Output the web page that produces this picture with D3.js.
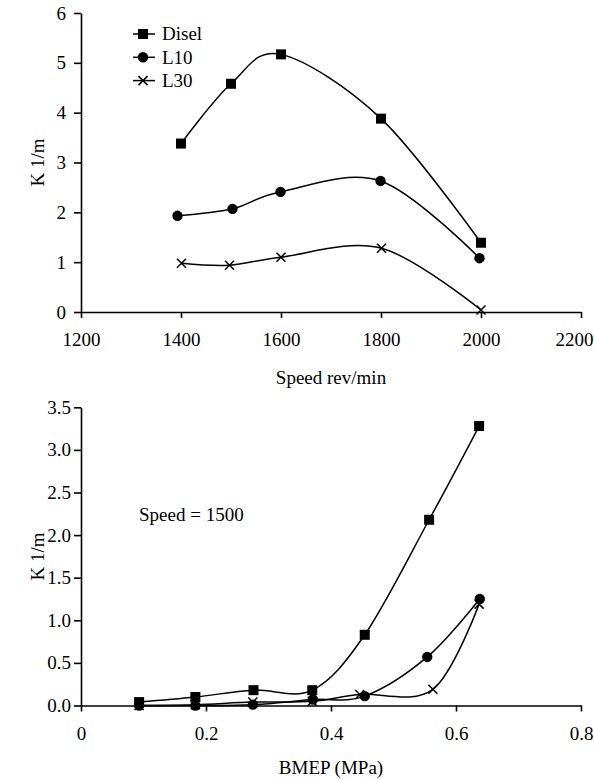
<!DOCTYPE html>
<html>
<head>
<meta charset="utf-8">
<script src="https://cdn.jsdelivr.net/npm/d3@7"></script>
<style>
body { margin: 0; background: #fff; }
svg { display: block; font-family: "Liberation Serif", "Times New Roman", serif; }
</style>
</head>
<body>
<script>
// upper panel: K against engine speed
const speedTicks = [1200, 1400, 1600, 1800, 2000, 2200]
const kTicksTop = [0, 1, 2, 3, 4, 5, 6]
const dieselSpeed = [1400, 1500, 1600, 1800, 2000]
const dieselKTop = [3.38, 4.58, 5.17, 3.88, 1.39]
const l10Speed = [1393, 1503, 1599, 1799, 1997]
const l10KTop = [1.93, 2.07, 2.41, 2.63, 1.08]
const l30Speed = [1401, 1497, 1600, 1801, 2000]
const l30KTop = [0.98, 0.94, 1.10, 1.28, 0.04]

// lower panel: K against BMEP at 1500 rev/min
const bmepTicks = [0, 0.2, 0.4, 0.6, 0.8]
const kTicksBottom = [0, 0.5, 1, 1.5, 2, 2.5, 3, 3.5]
const dieselBmep = [0.093, 0.183, 0.276, 0.370, 0.454, 0.557, 0.637]
const dieselKBottom = [0.04, 0.10, 0.18, 0.18, 0.83, 2.18, 3.28]
const l10Bmep = [0.093, 0.183, 0.275, 0.371, 0.454, 0.554, 0.638]
const l10KBottom = [0.0, 0.0, 0.01, 0.07, 0.11, 0.57, 1.25]
const l30Bmep = [0.093, 0.183, 0.275, 0.370, 0.446, 0.563, 0.637]
const l30KBottom = [0.0, 0.01, 0.04, 0.05, 0.13, 0.19, 1.19]

const seriesNames = ["Disel", "L10", "L30"]
const seriesShapes = ["square", "circle", "cross"]

const W = 594, H = 779
const svg = d3.select("body").append("svg").attr("width", W).attr("height", H)

function zip(xs, ys) { return xs.map((x, i) => ({x: x, y: ys[i]})) }

function marker(g, shape) {
    if (shape == "square") {
        g.append("rect").attr("x", -5).attr("y", -5).attr("width", 10).attr("height", 10).attr("fill", "#000")
    } else if (shape == "circle") {
        g.append("circle").attr("r", 5.2).attr("fill", "#000")
    } else {
        g.append("path").attr("d", "M-4.5,-4.5L4.5,4.5M-4.5,4.5L4.5,-4.5")
            .attr("stroke", "#000").attr("stroke-width", 1.5).attr("fill", "none")
    }
}

function panel(opt) {
    const x = d3.scaleLinear().domain(opt.xDomain).range([81, 581])
    const y = d3.scaleLinear().domain(opt.yDomain).range(opt.yRange)
    const g = svg.append("g")

    const xAxis = g.append("g")
        .attr("transform", `translate(0,${opt.yRange[0]})`)
        .call(d3.axisBottom(x).tickValues(opt.xTicks).tickFormat(opt.xFormat)
            .tickSize(6).tickSizeOuter(0).tickPadding(15))
    const yAxis = g.append("g")
        .attr("transform", "translate(81,0)")
        .call(d3.axisLeft(y).tickValues(opt.yTicks).tickFormat(opt.yFormat)
            .tickSize(7).tickSizeOuter(0).tickPadding(opt.yPad))
    ;[xAxis, yAxis].forEach(a => {
        a.attr("font-family", null)
        a.selectAll("path, line").attr("stroke", "#000").attr("stroke-width", 1.6)
        a.selectAll("text").attr("fill", "#000").style("font-size", "19px")
            .style("font-family", '"Liberation Serif", "Times New Roman", serif')
    })
    // keep the last x label inside the page, as in the original
    xAxis.selectAll(".tick:last-of-type text").attr("text-anchor", "end").attr("x", 12)

    g.append("text")
        .attr("transform", `translate(44,${(opt.yRange[0] + opt.yRange[1]) / 2}) rotate(-90)`)
        .attr("text-anchor", "middle")
        .style("font-size", "19px")
        .text("K 1/m")
    g.append("text")
        .attr("x", 331).attr("y", opt.titleY)
        .attr("text-anchor", "middle")
        .style("font-size", "19px")
        .text(opt.xTitle)

    const line = d3.line().x(d => x(d.x)).y(d => y(d.y)).curve(d3.curveCardinal.tension(0))
    opt.series.forEach((s, i) => {
        g.append("path")
            .datum(s)
            .attr("d", line)
            .attr("fill", "none")
            .attr("stroke", "#000")
            .attr("stroke-width", 1.5)
        g.selectAll(null)
            .data(s)
            .enter().append("g")
            .attr("transform", d => `translate(${x(d.x)},${y(d.y)})`)
            .each(function () { marker(d3.select(this), seriesShapes[i]) })
    })
    return g
}

const topPanel = panel({
    xDomain: [1200, 2200], yDomain: [0, 6], yRange: [312, 13],
    xTicks: speedTicks, yTicks: kTicksTop,
    xFormat: d3.format("d"), yFormat: d3.format("d"), yPad: 8,
    xTitle: "Speed rev/min", titleY: 384,
    series: [zip(dieselSpeed, dieselKTop), zip(l10Speed, l10KTop), zip(l30Speed, l30KTop)]
})

// legend of the upper panel
const legend = topPanel.append("g")
seriesNames.forEach((name, i) => {
    const row = legend.append("g").attr("transform", `translate(143,${34 + i * 23.3})`)
    row.append("line").attr("x1", -10).attr("x2", 12).attr("stroke", "#000").attr("stroke-width", 1.5)
    marker(row, seriesShapes[i])
    row.append("text").attr("x", 19).attr("dy", "0.33em").style("font-size", "19px").text(name)
})

const bottomPanel = panel({
    xDomain: [0, 0.8], yDomain: [0, 3.5], yRange: [705.5, 407.3],
    xTicks: bmepTicks, yTicks: kTicksBottom,
    xFormat: d => d === 0 ? "0" : d.toFixed(1), yFormat: d3.format(".1f"), yPad: 3,
    xTitle: "BMEP (MPa)", titleY: 774,
    series: [zip(dieselBmep, dieselKBottom), zip(l10Bmep, l10KBottom), zip(l30Bmep, l30KBottom)]
})

bottomPanel.append("text")
    .attr("x", 139).attr("y", 521)
    .style("font-size", "19px")
    .text("Speed = 1500")
</script>
</body>
</html>
